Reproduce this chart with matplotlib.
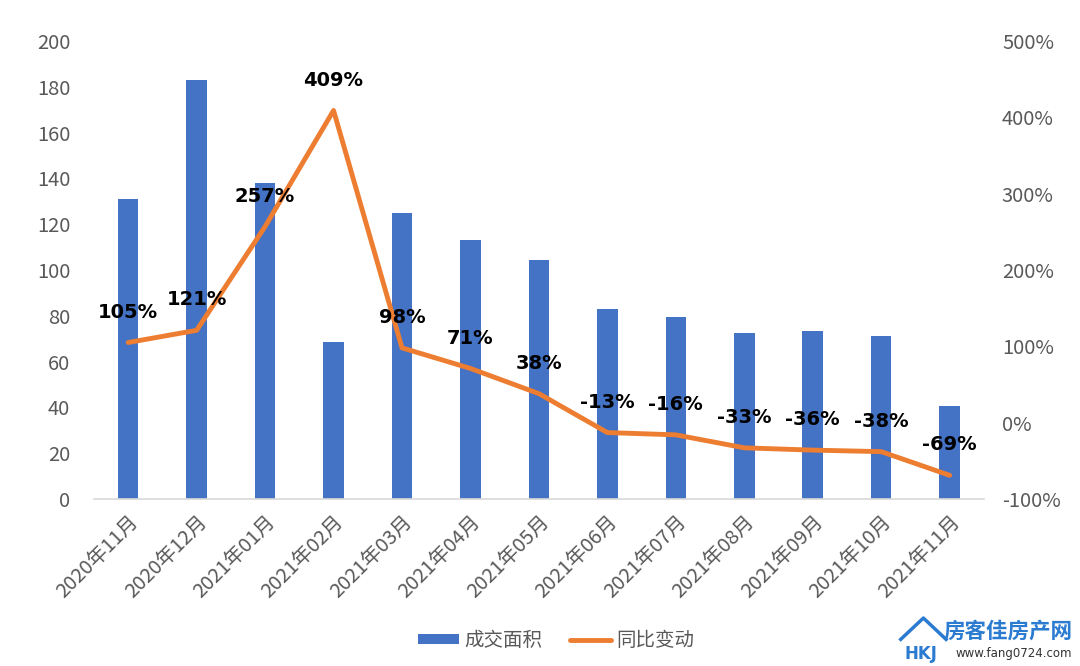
import matplotlib.pyplot as plt
import numpy as np

plt.rcParams['font.family'] = ['Noto Sans CJK SC', 'DejaVu Sans']

months = ['2020年11月', '2020年12月', '2021年01月', '2021年02月', '2021年03月',
          '2021年04月', '2021年05月', '2021年06月', '2021年07月', '2021年08月',
          '2021年09月', '2021年10月', '2021年11月']
area = [131, 183, 138, 68.5, 125, 113, 104.5, 83, 79.5, 72.5, 73.5, 71, 40.5]
yoy = [105, 121, 257, 409, 98, 71, 38, -13, -16, -33, -36, -38, -69]

blue = '#4472C4'
orange = '#ED7D31'
grey = '#595959'

fig = plt.figure(figsize=(10.8, 6.66), dpi=100)
ax = fig.add_axes([0.087, 0.2508, 0.824, 0.6876])
x = np.arange(len(months))

ax.bar(x, area, width=0.3, color=blue, label='成交面积', zorder=2)
ax.set_xlim(-0.5, len(months) - 0.5)
ax.set_ylim(0, 200)
ax.set_yticks(range(0, 201, 20))
ax.set_xticks(x)
ax.set_xticklabels(months, rotation=45, ha='right', rotation_mode='anchor')
ax.tick_params(axis='both', length=0, colors=grey, labelsize=14.5)
ax.tick_params(axis='y', pad=17)
ax.tick_params(axis='x', pad=9)
for s in ['top', 'right', 'left']:
    ax.spines[s].set_visible(False)
ax.spines['bottom'].set_color('#D9D9D9')
ax.spines['bottom'].set_linewidth(1.2)

ax2 = ax.twinx()
ax2.plot(x, yoy, color=orange, lw=3.5, label='同比变动', zorder=3,
         solid_capstyle='round')
ax2.set_ylim(-100, 500)
ax2.set_yticks(range(-100, 501, 100))
ax2.set_yticklabels([f'{v}%' for v in range(-100, 501, 100)])
ax2.tick_params(axis='y', length=0, colors=grey, labelsize=14.5, pad=13)
for s in ax2.spines.values():
    s.set_visible(False)

for lab in ax.get_xticklabels() + ax.get_yticklabels() + ax2.get_yticklabels():
    lab.set_fontweight('light')

for xi, v in zip(x, yoy):
    ax2.annotate(f'{v}%', (xi, v), xytext=(0, 15), textcoords='offset points',
                 ha='center', va='bottom', fontsize=14, fontweight='bold',
                 color='black', family=['DejaVu Sans'])

h1, l1 = ax.get_legend_handles_labels()
h2, l2 = ax2.get_legend_handles_labels()
leg = fig.legend(h1 + h2, l1 + l2, loc='center', bbox_to_anchor=(0.515, 0.038),
                 ncol=2, frameon=False, fontsize=14, labelcolor=grey,
                 handlelength=2.1, handleheight=0.45, handletextpad=0.3,
                 columnspacing=1.4)
for t in leg.get_texts():
    t.set_fontweight('light')

# watermark
fig.text(0.993, 0.052, '房客佳房产网', fontsize=15.5, fontweight='bold',
         color='#2B7BD1', ha='right', va='center')
fig.text(0.993, 0.019, 'www.fang0724.com', fontsize=8.5, color='#333333',
         ha='right', va='center', family=['DejaVu Sans'])
fig.text(0.853, 0.018, 'HKJ', fontsize=12, fontweight='bold', color='#2B7BD1',
         ha='center', va='center', family=['DejaVu Sans'])
fig.lines.append(plt.Line2D([0.834, 0.855, 0.876], [0.04, 0.072, 0.04],
                            transform=fig.transFigure, color='#2B7BD1', lw=2.5))

fig.savefig('out.png', dpi=100, facecolor='white')
